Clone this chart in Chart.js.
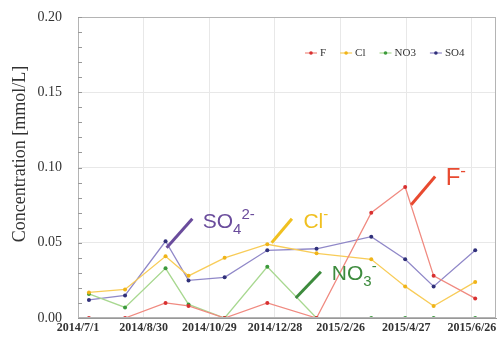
<!DOCTYPE html>
<html>
<head>
<meta charset="utf-8">
<script src="https://cdn.jsdelivr.net/npm/chart.js@4.4.1/dist/chart.umd.min.js"></script>
<style>
  html, body { margin: 0; padding: 0; background: #fff; }
  #wrap { width: 500px; height: 338px; }
</style>
</head>
<body>
<div id="wrap"><canvas id="chart" width="500" height="338"></canvas></div>
<script>
// x-axis tick labels (every 60 days)
var tickLabels = ['2014/7/1', '2014/8/30', '2014/10/29', '2014/12/28', '2015/2/26', '2015/4/27', '2015/6/26'];

// sampling dates
var sampleDates = ['2014/7/11', '2014/8/13', '2014/9/19', '2014/10/10', '2014/11/12', '2014/12/21',
                   '2015/2/4', '2015/3/26', '2015/4/26', '2015/5/22', '2015/6/29'];

// concentrations [mmol/L]
var fValues   = [0, 0, 0.010, 0.008, 0, 0.010, 0, 0.070, 0.087, 0.028, 0.013];
var clValues  = [0.017, 0.019, 0.041, 0.028, 0.040, 0.049, 0.043, 0.039, 0.021, 0.008, 0.024];
var no3Values = [0.016, 0.007, 0.033, 0.009, 0, 0.034, 0, 0, 0, 0, 0];
var so4Values = [0.012, 0.015, 0.051, 0.025, 0.027, 0.045, 0.046, 0.054, 0.039, 0.021, 0.045];

var seriesNames = ['F', 'Cl', 'NO3', 'SO4'];
var yTitle = 'Concentration [mmol/L]';

function dayOf(s) {
    var p = s.split('/').map(Number);
    return (Date.UTC(p[0], p[1] - 1, p[2]) - Date.UTC(2014, 6, 1)) / 86400000;
}
var tickDays = tickLabels.map(dayOf);
var sampleDays = sampleDates.map(dayOf);

function points(vals) {
    return vals.map(function (v, i) { return { x: sampleDays[i], y: v }; });
}

var lineColors = ['#f08a80', '#f8cc58', '#a8d890', '#9088c8'];
var dotColors  = ['#d83030', '#f0b418', '#3c9a3c', '#30307a'];
var allValues = [fValues, clValues, no3Values, so4Values];

// hand-placed labels on the plot (day offset, value)
var labels = [
    { main: 'SO', sub: '4', sup: '2-', color: '#6a4c9c', at: [114, 0.0600], line: [[81, 0.0467], [104.5, 0.066]] },
    { main: 'Cl', sub: '', sup: '-', color: '#f0c020', at: [206, 0.0600], line: [[177, 0.050], [195.5, 0.066]] },
    { main: 'NO', sub: '3', sup: '-', color: '#3d8b3d', at: [232, 0.0253], line: [[199, 0.0133], [222, 0.0307]] },
    { main: 'F', sub: '', sup: '-', color: '#e84a30', at: [336, 0.0887], line: [[304.5, 0.0753], [326.4, 0.094]], size: 24 }
];

var serif = '"Liberation Serif", "Times New Roman", serif';
var sans = '"Liberation Sans", Arial, sans-serif';

function noPad(s) {
    s.paddingTop = 0; s.paddingBottom = 0; s.paddingLeft = 0; s.paddingRight = 0;
}

var overlay = {
    id: 'overlay',
    afterDraw: function (chart) {
        var ctx = chart.ctx, a = chart.chartArea, x = chart.scales.x, y = chart.scales.y;
        ctx.save();
        // frame
        ctx.strokeStyle = '#b4b4b4';
        ctx.lineWidth = 1;
        ctx.strokeRect(a.left + 0.5, a.top + 0.5, a.right - a.left - 1, a.bottom - a.top - 1);
        // minor ticks on the y axis
        ctx.strokeStyle = '#999';
        for (var v = 0; v <= 0.2001; v += 0.01) {
            var py = Math.round(y.getPixelForValue(v)) + 0.5;
            ctx.beginPath();
            ctx.moveTo(a.left, py);
            ctx.lineTo(a.left + 4, py);
            ctx.stroke();
        }
        // y title
        ctx.save();
        ctx.translate(20, 154);
        ctx.rotate(-Math.PI / 2);
        ctx.fillStyle = '#333';
        ctx.font = '18px ' + serif;
        ctx.textAlign = 'center';
        ctx.textBaseline = 'middle';
        ctx.fillText(yTitle, 0, 0);
        ctx.restore();
        // labels on the plot
        labels.forEach(function (l) {
            var size = l.size || 21;
            ctx.strokeStyle = l.color;
            ctx.lineWidth = 3;
            ctx.beginPath();
            ctx.moveTo(x.getPixelForValue(l.line[0][0]), y.getPixelForValue(l.line[0][1]));
            ctx.lineTo(x.getPixelForValue(l.line[1][0]), y.getPixelForValue(l.line[1][1]));
            ctx.stroke();
            var px = x.getPixelForValue(l.at[0]), py = y.getPixelForValue(l.at[1]);
            ctx.fillStyle = l.color;
            ctx.textBaseline = 'alphabetic';
            ctx.textAlign = 'left';
            ctx.font = size + 'px ' + sans;
            ctx.fillText(l.main, px, py);
            px += ctx.measureText(l.main).width;
            ctx.font = Math.round(size * 0.7) + 'px ' + sans;
            if (l.sub) {
                ctx.fillText(l.sub, px, py + 6);
                px += ctx.measureText(l.sub).width;
            }
            if (l.sup) {
                ctx.fillText(l.sup, px, py - 9);
            }
        });
        // legend
        ctx.font = '11px ' + serif;
        ctx.textBaseline = 'middle';
        var lx = a.left + 227, ly = a.top + 36;
        chart.data.datasets.forEach(function (ds, i) {
            ctx.strokeStyle = lineColors[i];
            ctx.lineWidth = 1.2;
            ctx.beginPath();
            ctx.moveTo(lx, ly);
            ctx.lineTo(lx + 12, ly);
            ctx.stroke();
            ctx.fillStyle = dotColors[i];
            ctx.beginPath();
            ctx.arc(lx + 6, ly, 1.8, 0, Math.PI * 2);
            ctx.fill();
            ctx.fillStyle = '#333';
            ctx.fillText(ds.label, lx + 15, ly);
            lx += 15 + ctx.measureText(ds.label).width + 14;
        });
        ctx.restore();
    }
};

new Chart(document.getElementById('chart'), {
    type: 'line',
    data: {
        datasets: seriesNames.map(function (name, i) {
            return {
                label: name,
                data: points(allValues[i]),
                borderColor: lineColors[i],
                backgroundColor: dotColors[i],
                pointBackgroundColor: dotColors[i],
                pointBorderWidth: 0,
                pointRadius: 2,
                borderWidth: 1.3,
                tension: 0,
                fill: false
            };
        })
    },
    options: {
        responsive: false,
        animation: false,
        layout: { padding: { top: 17, right: 2, left: 0, bottom: 0 } },
        plugins: { legend: { display: false }, tooltip: { enabled: false } },
        scales: {
            x: {
                type: 'linear',
                min: 0,
                max: 382,
                afterBuildTicks: function (axis) {
                    axis.ticks = tickDays.map(function (d) { return { value: d }; });
                },
                afterFit: function (s) { s.height = 20; noPad(s); },
                ticks: {
                    autoSkip: false,
                    maxRotation: 0,
                    padding: 3,
                    color: '#333',
                    font: { family: serif, size: 12, weight: 'bold' },
                    callback: function (v) {
                        var i = tickDays.indexOf(v);
                        return i >= 0 ? tickLabels[i] : '';
                    }
                },
                grid: { color: '#e8e8e8', drawTicks: false },
                border: { color: '#999' }
            },
            y: {
                min: 0,
                max: 0.2,
                afterFit: function (s) { s.width = 78; noPad(s); },
                ticks: {
                    stepSize: 0.05,
                    padding: 16,
                    color: '#333',
                    font: { family: serif, size: 14 },
                    callback: function (v) { return v.toFixed(2); }
                },
                grid: { color: '#e8e8e8', drawTicks: false },
                border: { color: '#999' }
            }
        }
    },
    plugins: [overlay]
});
</script>
</body>
</html>
